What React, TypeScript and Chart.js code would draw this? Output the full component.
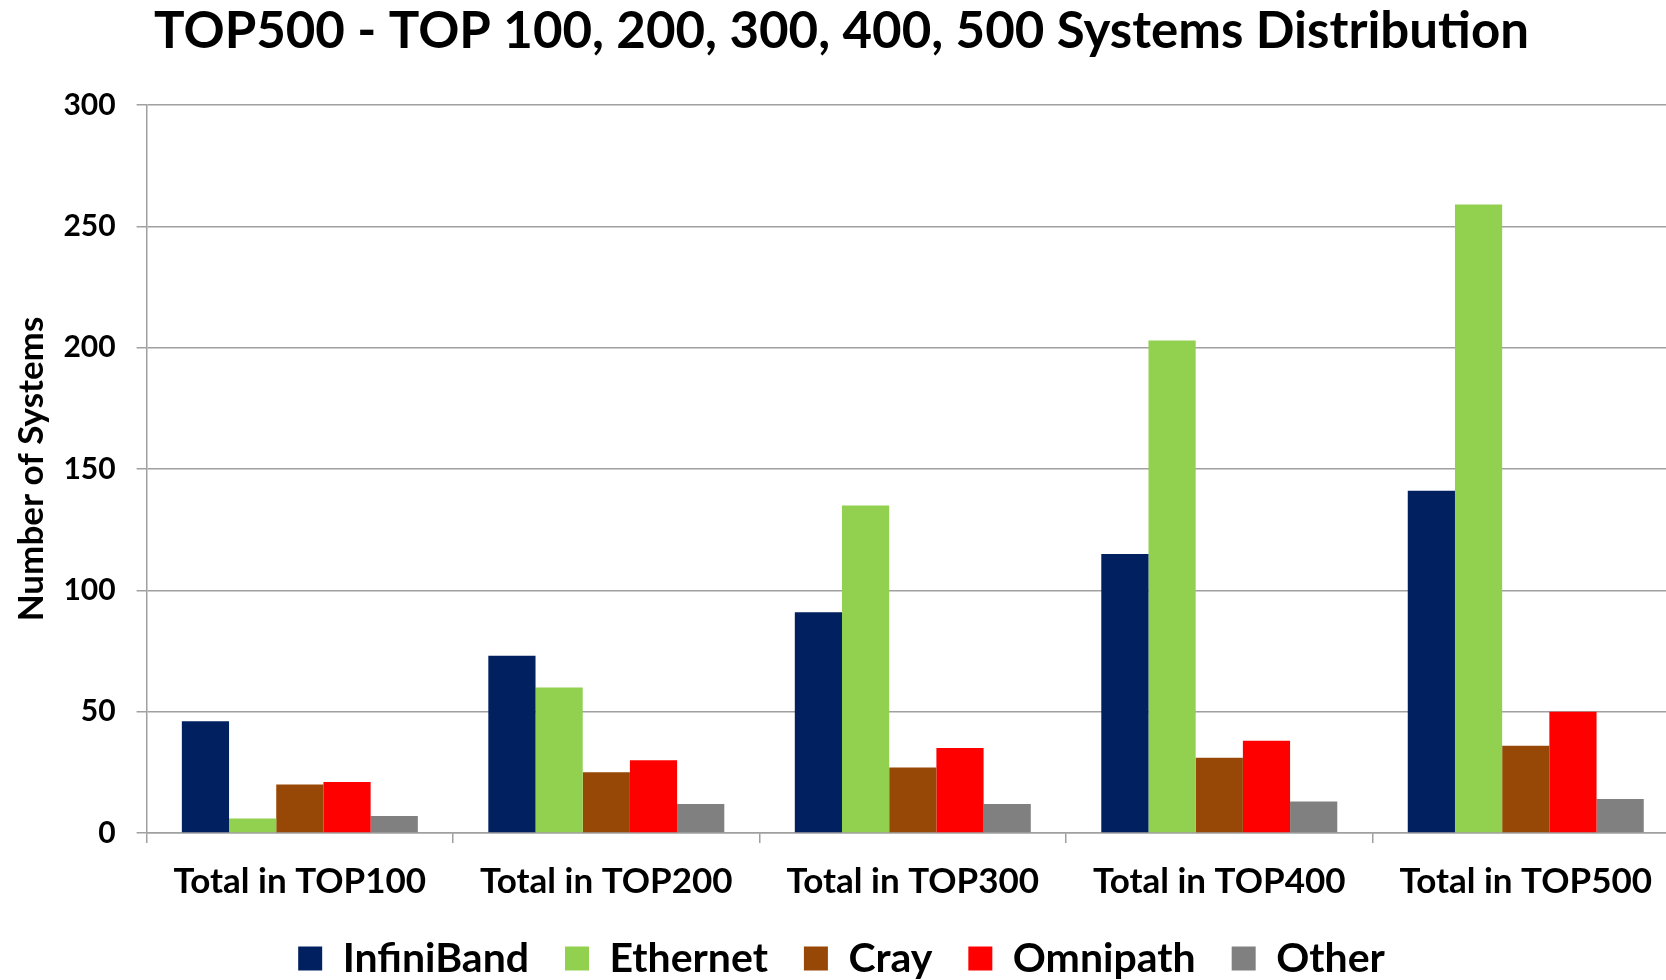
import React, { useEffect, useRef } from "react";
import { Chart, registerables } from "chart.js";

Chart.register(...registerables);

const titleText = "TOP500 - TOP 100, 200, 300, 400, 500 Systems Distribution";
const yTitle = "Number of Systems";
const categories = ["Total in TOP100", "Total in TOP200", "Total in TOP300", "Total in TOP400", "Total in TOP500"];
const infiniband = [46, 73, 91, 115, 141];
const ethernet = [6, 60, 135, 203, 259];
const cray = [20, 25, 27, 31, 36];
const omnipath = [21, 30, 35, 38, 50];
const other = [7, 12, 12, 13, 14];
const yTicks = [0, 50, 100, 150, 200, 250, 300];

const seriesNames = ["InfiniBand", "Ethernet", "Cray", "Omnipath", "Other"];
const seriesColors = ["#002060", "#92D050", "#974706", "#FF0000", "#808080"];
const seriesData = [infiniband, ethernet, cray, omnipath, other];

const GRID = "#a0a0a0";

export default function App() {
  const ref = useRef<HTMLCanvasElement | null>(null);

  useEffect(() => {
    if (!ref.current) return;
    const chart = new Chart(ref.current, {
      type: "bar",
      data: {
        labels: categories,
        datasets: seriesNames.map((name, i) => ({
          label: name,
          data: seriesData[i],
          backgroundColor: seriesColors[i],
          borderWidth: 0,
          categoryPercentage: 0.77,
          barPercentage: 1.0,
        })),
      },
      options: {
        responsive: false,
        animation: false,
        layout: { padding: { left: 4, right: 1, top: 0, bottom: 0 } },
        plugins: {
          title: {
            display: true,
            text: titleText,
            color: "#000",
            font: { family: "Lato", weight: "bold", size: 51 },
            padding: { top: 1, bottom: 42.8 },
          },
          legend: {
            position: "bottom",
            maxHeight: 78,
            labels: {
              color: "#000",
              font: { family: "Lato", weight: "bold", size: 41 },
              boxWidth: 24,
              boxHeight: 24,
              padding: 36,
            },
          },
          tooltip: { enabled: false },
        },
        scales: {
          x: {
            afterFit: (scale: any) => {
              scale.height = 69;
            },
            grid: { offset: true, drawOnChartArea: false, tickLength: 10, color: GRID, lineWidth: 1.5 },
            border: { color: GRID, width: 1.5 },
            ticks: {
              color: "#000",
              font: { family: "Lato", weight: "bold", size: 35 },
              padding: 18,
              maxRotation: 0,
            },
          },
          y: {
            min: 0,
            max: 300,
            afterBuildTicks: (axis: any) => {
              axis.ticks = yTicks.map((v) => ({ value: v }));
            },
            afterFit: (scale: any) => {
              scale.width = 142.6;
            },
            grid: { color: GRID, lineWidth: 1.5, tickLength: 10 },
            border: { color: GRID, width: 1.5 },
            ticks: {
              color: "#000",
              font: { family: "Lato", weight: "bold", size: 30 },
              padding: 21,
            },
            title: {
              display: true,
              text: yTitle,
              color: "#000",
              font: { family: "Lato", weight: "bold", size: 35 },
              padding: { top: 7, bottom: 4 },
            },
          },
        },
      },
    });
    return () => chart.destroy();
  }, []);

  return (
    <div
      style={{
        position: "fixed",
        left: 0,
        top: 0,
        width: 1666,
        height: 980,
        overflow: "hidden",
        background: "#fff",
      }}
    >
      <canvas ref={ref} width={1680} height={980} style={{ display: "block" }} />
    </div>
  );
}
